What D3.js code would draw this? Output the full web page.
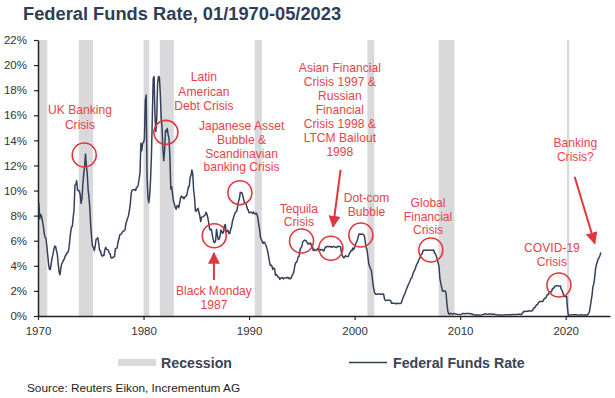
<!DOCTYPE html>
<html>
<head>
<meta charset="utf-8">
<script src="https://cdn.jsdelivr.net/npm/d3@7"></script>
<style>
  body { margin: 0; background: #fff; }
  #chart { width: 615px; height: 398px; }
  text { font-family: "Liberation Sans", Arial, sans-serif; }
</style>
</head>
<body>
<div id="chart"></div>
<script>
// monthly effective federal funds rate (%), starting Jan of each decade
const rates1970s = [
  8.98, 8.98, 7.76, 8.10, 7.95, 7.61, 7.21, 6.61, 6.29, 6.20, 5.60, 4.90,
  4.14, 3.72, 3.71, 4.15, 4.63, 4.91, 5.31, 5.57, 5.55, 5.20, 4.91, 4.14,
  3.50, 3.29, 3.83, 4.17, 4.27, 4.46, 4.55, 4.80, 4.87, 5.04, 5.06, 5.33,
  5.94, 6.58, 7.09, 7.12, 7.84, 8.49, 10.40, 10.50, 10.78, 10.01, 10.03, 9.95,
  9.65, 8.97, 9.35, 10.51, 11.31, 11.93, 12.92, 12.01, 11.34, 10.06, 9.45, 8.53,
  7.13, 6.24, 5.54, 5.49, 5.22, 5.55, 6.10, 6.14, 6.24, 5.82, 5.22, 5.20,
  4.87, 4.77, 4.84, 4.82, 5.29, 5.48, 5.31, 5.29, 5.25, 5.02, 4.95, 4.65,
  4.61, 4.68, 4.69, 4.73, 5.35, 5.39, 5.42, 5.90, 6.14, 6.47, 6.51, 6.56,
  6.70, 6.78, 6.79, 6.89, 7.36, 7.60, 7.81, 8.04, 8.45, 8.96, 9.76, 10.03,
  10.07, 10.06, 10.09, 10.01, 10.24, 10.29, 10.47, 10.94, 11.43, 13.77, 13.18, 13.78
];
const rates1980s = [
  13.82, 14.13, 17.19, 17.61, 10.98, 9.47, 9.03, 9.61, 10.87, 12.81, 15.85, 18.90,
  19.08, 15.93, 14.70, 15.72, 18.52, 19.10, 19.04, 17.82, 15.87, 15.08, 13.31, 12.37,
  13.22, 14.78, 14.68, 14.94, 14.45, 14.15, 12.59, 10.12, 10.31, 9.71, 9.20, 8.95,
  8.68, 8.51, 8.77, 8.80, 8.63, 8.98, 9.37, 9.56, 9.45, 9.48, 9.34, 9.47,
  9.56, 9.59, 9.91, 10.29, 10.32, 11.06, 11.23, 11.64, 11.30, 9.99, 9.43, 8.38,
  8.35, 8.50, 8.58, 8.27, 7.97, 7.53, 7.88, 7.90, 7.92, 7.99, 8.05, 8.27,
  8.14, 7.86, 7.48, 6.99, 6.85, 6.92, 6.56, 6.17, 5.89, 5.85, 6.04, 6.91,
  6.43, 6.10, 6.13, 6.37, 6.85, 6.73, 6.58, 6.73, 7.22, 7.29, 6.69, 6.77,
  6.83, 6.58, 6.58, 6.87, 7.09, 7.51, 7.75, 8.01, 8.19, 8.30, 8.35, 8.76,
  9.12, 9.36, 9.85, 9.84, 9.81, 9.53, 9.24, 8.99, 9.02, 8.84, 8.55, 8.45
];
const rates1990s = [
  8.23, 8.24, 8.28, 8.26, 8.18, 8.29, 8.15, 8.13, 8.20, 8.11, 7.81, 7.31,
  6.91, 6.25, 6.12, 5.91, 5.78, 5.90, 5.82, 5.66, 5.45, 5.21, 4.81, 4.43,
  4.03, 4.06, 3.98, 3.73, 3.82, 3.76, 3.25, 3.30, 3.22, 3.10, 3.09, 2.92,
  3.02, 3.03, 3.07, 2.96, 3.00, 3.04, 3.06, 3.03, 3.09, 2.99, 3.02, 2.96,
  3.05, 3.25, 3.34, 3.56, 4.01, 4.25, 4.26, 4.47, 4.73, 4.76, 5.29, 5.45,
  5.53, 5.92, 5.98, 6.05, 6.01, 6.00, 5.85, 5.74, 5.80, 5.76, 5.80, 5.60,
  5.56, 5.22, 5.31, 5.22, 5.24, 5.27, 5.40, 5.22, 5.30, 5.24, 5.31, 5.29,
  5.25, 5.19, 5.39, 5.51, 5.50, 5.56, 5.52, 5.54, 5.54, 5.50, 5.52, 5.50,
  5.56, 5.51, 5.49, 5.45, 5.49, 5.56, 5.54, 5.55, 5.51, 5.07, 4.83, 4.68,
  4.63, 4.76, 4.81, 4.74, 4.74, 4.76, 4.99, 5.07, 5.22, 5.20, 5.42, 5.30
];
const rates2000s = [
  5.45, 5.73, 5.85, 6.02, 6.27, 6.53, 6.54, 6.50, 6.52, 6.51, 6.51, 6.40,
  5.98, 5.49, 5.31, 4.80, 4.21, 3.97, 3.77, 3.65, 3.07, 2.49, 2.09, 1.82,
  1.73, 1.74, 1.73, 1.75, 1.75, 1.75, 1.73, 1.74, 1.75, 1.75, 1.34, 1.24,
  1.24, 1.26, 1.25, 1.26, 1.26, 1.22, 1.01, 1.03, 1.01, 1.01, 1.00, 0.98,
  1.00, 1.01, 1.00, 1.00, 1.00, 1.03, 1.26, 1.43, 1.61, 1.76, 1.93, 2.16,
  2.28, 2.50, 2.63, 2.79, 3.00, 3.04, 3.26, 3.50, 3.62, 3.78, 4.00, 4.16,
  4.29, 4.49, 4.59, 4.79, 4.94, 4.99, 5.24, 5.25, 5.25, 5.25, 5.25, 5.24,
  5.25, 5.26, 5.26, 5.25, 5.25, 5.25, 5.26, 5.02, 4.94, 4.76, 4.49, 4.24,
  3.94, 2.98, 2.61, 2.28, 1.98, 2.00, 2.01, 2.00, 1.81, 0.97, 0.39, 0.16,
  0.15, 0.22, 0.18, 0.15, 0.18, 0.21, 0.16, 0.16, 0.15, 0.12, 0.12, 0.12
];
const rates2010s = [
  0.11, 0.13, 0.16, 0.20, 0.20, 0.18, 0.18, 0.19, 0.19, 0.19, 0.19, 0.18,
  0.17, 0.16, 0.14, 0.10, 0.09, 0.09, 0.07, 0.10, 0.08, 0.07, 0.08, 0.07,
  0.08, 0.10, 0.13, 0.14, 0.16, 0.16, 0.16, 0.13, 0.14, 0.16, 0.16, 0.16,
  0.14, 0.15, 0.14, 0.15, 0.11, 0.09, 0.09, 0.08, 0.08, 0.09, 0.08, 0.09,
  0.07, 0.07, 0.08, 0.09, 0.09, 0.10, 0.09, 0.09, 0.09, 0.09, 0.09, 0.12,
  0.11, 0.11, 0.11, 0.12, 0.12, 0.13, 0.13, 0.14, 0.14, 0.12, 0.12, 0.24,
  0.34, 0.38, 0.36, 0.37, 0.37, 0.38, 0.39, 0.40, 0.40, 0.40, 0.41, 0.54,
  0.65, 0.66, 0.79, 0.90, 0.91, 1.04, 1.15, 1.16, 1.15, 1.15, 1.16, 1.30,
  1.41, 1.42, 1.51, 1.69, 1.70, 1.82, 1.91, 1.91, 1.95, 2.19, 2.20, 2.27,
  2.40, 2.40, 2.41, 2.42, 2.39, 2.38, 2.40, 2.13, 2.04, 1.83, 1.55, 1.55
];
const rates2020s = [
  1.55, 1.58, 0.65, 0.05, 0.05, 0.08, 0.09, 0.10, 0.09, 0.09, 0.09, 0.09,
  0.09, 0.08, 0.07, 0.07, 0.06, 0.08, 0.10, 0.09, 0.08, 0.08, 0.08, 0.08,
  0.08, 0.08, 0.20, 0.33, 0.77, 1.21, 1.68, 2.33, 2.56, 3.08, 3.78, 4.10,
  4.33, 4.57, 4.65, 4.83, 5.06
];

// US recessions (decimal years)
const recessionStart = [1969.92, 1973.87, 1980.0, 1981.54, 1990.54, 2001.21, 2007.96, 2020.12];
const recessionEnd   = [1970.87, 1975.21, 1980.54, 1982.87, 1991.21, 2001.87, 2009.46, 2020.33];

const yTicks = [0, 2, 4, 6, 8, 10, 12, 14, 16, 18, 20, 22];
const xTicks = [1970, 1980, 1990, 2000, 2010, 2020];

// annotations, placed in chart units (year, rate)
const annotations = [
  { lines: ["UK Banking", "Crisis"], tx: 1973.98, ty: 16.1, lh: 15, cx: 1974.38, cy: 12.83 },
  { lines: ["Latin", "American", "Debt Crisis"], tx: 1985.72, ty: 18.73, lh: 14.5, cx: 1982.12, cy: 14.64 },
  { lines: ["Japanese Asset", "Bubble &", "Scandinavian", "banking Crisis"], tx: 1989.29, ty: 14.83, lh: 13.8, cx: 1989.13, cy: 9.83 },
  { lines: ["Black Monday", "1987"], tx: 1986.67, ty: 1.70, lh: 14, cx: 1986.7, cy: 6.4,
    arrow: [1986.67, 2.87, 1986.67, 5.02] },
  { lines: ["Tequila", "Crisis"], tx: 1994.72, ty: 8.21, lh: 13.2, cx: 1994.97, cy: 5.98 },
  { lines: ["Asian Financial", "Crisis 1997 &", "Russian", "Financial", "Crisis 1998 &", "LTCM Bailout", "1998"],
    tx: 1998.6, ty: 19.43, lh: 13.9, cx: 1997.75, cy: 5.4, arrow: [1998.67, 11.64, 1997.96, 7.12] },
  { lines: ["Dot-com", "Bubble"], tx: 2001.13, ty: 9.06, lh: 14, cx: 2000.59, cy: 6.46 },
  { lines: ["Global", "Financial", "Crisis"], tx: 2006.96, ty: 8.66, lh: 13.4, cx: 2007.22, cy: 5.26 },
  { lines: ["COVID-19", "Crisis"], tx: 2018.7, ty: 5.08, lh: 13.4, cx: 2019.36, cy: 2.47 },
  { lines: ["Banking", "Crisis?"], tx: 2020.92, ty: 13.45, lh: 13.4, arrow: [2020.85, 11.1, 2022.75, 5.8] }
];

const allRates = [rates1970s, rates1980s, rates1990s, rates2000s, rates2010s, rates2020s];
const series = [];
allRates.forEach((arr, k) => {
  arr.forEach((v, i) => series.push({ t: 1970 + k * 10 + i / 12, v: v }));
});

const W = 615, H = 398;
const svg = d3.select("#chart").append("svg").attr("width", W).attr("height", H);

const x = d3.scaleLinear().domain([1970, 2024.2]).range([38, 610]);
const y = d3.scaleLinear().domain([0, 22]).range([316, 40]);

const red = "#e0363d";
const navy = "#34405a";

svg.append("text")
  .attr("x", 23).attr("y", 19.5)
  .attr("font-size", 18.3).attr("font-weight", "bold")
  .attr("fill", "#2f3d57")
  .text("Federal Funds Rate, 01/1970-05/2023");

// recession bands
svg.append("g").selectAll("rect")
  .data(recessionStart.map((s, i) => ({ s: Math.max(s, 1970), e: recessionEnd[i] })))
  .join("rect")
  .attr("x", d => x(d.s))
  .attr("y", y(22))
  .attr("width", d => x(d.e) - x(d.s))
  .attr("height", y(0) - y(22))
  .attr("fill", "#d9d9db");

// axes
const yAxis = d3.axisLeft(y).tickValues(yTicks).tickFormat(d => d + "%").tickSize(4).tickSizeOuter(0);
const xAxis = d3.axisBottom(x).tickValues(xTicks).tickFormat(d3.format("d")).tickSize(4).tickSizeOuter(0);

const gy = svg.append("g").attr("transform", `translate(${x(1970)},0)`).call(yAxis);
const gx = svg.append("g").attr("transform", `translate(0,${y(0)})`).call(xAxis);
[gx, gy].forEach(g => {
  g.select(".domain").attr("stroke", "#222").attr("stroke-width", 1.5);
  g.selectAll(".tick line").attr("stroke", "#222").attr("stroke-width", 1.2);
  g.selectAll(".tick text").attr("fill", "#333").attr("font-size", 11.5)
    .attr("font-family", "Liberation Sans, Arial, sans-serif");
});
gy.selectAll(".tick text").attr("x", -11);
gx.selectAll(".tick text").attr("y", 10.5);

// rate line
const line = d3.line().x(d => x(d.t)).y(d => y(d.v));
svg.append("path")
  .datum(series)
  .attr("d", line)
  .attr("fill", "none")
  .attr("stroke", navy)
  .attr("stroke-width", 1.5)
  .attr("stroke-linejoin", "round");

// arrow marker
svg.append("defs").append("marker")
  .attr("id", "head")
  .attr("viewBox", "0 0 10 10")
  .attr("refX", 9).attr("refY", 5)
  .attr("markerUnits", "userSpaceOnUse")
  .attr("markerWidth", 12).attr("markerHeight", 12)
  .attr("orient", "auto")
  .append("path").attr("d", "M0,0 L10,5 L0,10 Z").attr("fill", red);

const ag = svg.append("g");
annotations.forEach(a => {
  const t = ag.append("text")
    .attr("text-anchor", "middle")
    .attr("font-size", 12.1)
    .attr("fill", "#e6434a");
  a.lines.forEach((s, i) => {
    t.append("tspan").attr("x", x(a.tx)).attr("y", y(a.ty) + i * a.lh).text(s);
  });
  if (a.cx !== undefined) {
    ag.append("circle")
      .attr("cx", x(a.cx)).attr("cy", y(a.cy)).attr("r", 12)
      .attr("fill", "none").attr("stroke", red).attr("stroke-width", 1.6);
  }
  if (a.arrow) {
    ag.append("line")
      .attr("x1", x(a.arrow[0])).attr("y1", y(a.arrow[1]))
      .attr("x2", x(a.arrow[2])).attr("y2", y(a.arrow[3]))
      .attr("stroke", red).attr("stroke-width", 2)
      .attr("marker-end", "url(#head)");
  }
});

// legend
const lg = svg.append("g");
lg.append("rect").attr("x", 118).attr("y", 359).attr("width", 38).attr("height", 7).attr("fill", "#d9d9db");
lg.append("text").attr("x", 161).attr("y", 367.5).attr("font-size", 14.2).attr("font-weight", "bold")
  .attr("fill", "#3a4455").text("Recession");
lg.append("line").attr("x1", 349).attr("x2", 387).attr("y1", 362.5).attr("y2", 362.5)
  .attr("stroke", navy).attr("stroke-width", 1.5);
lg.append("text").attr("x", 393).attr("y", 367.5).attr("font-size", 14.2).attr("font-weight", "bold")
  .attr("fill", "#3a4455").text("Federal Funds Rate");

svg.append("text").attr("x", 27).attr("y", 391.5).attr("font-size", 11.8)
  .attr("fill", "#222").text("Source: Reuters Eikon, Incrementum AG");
</script>
</body>
</html>
